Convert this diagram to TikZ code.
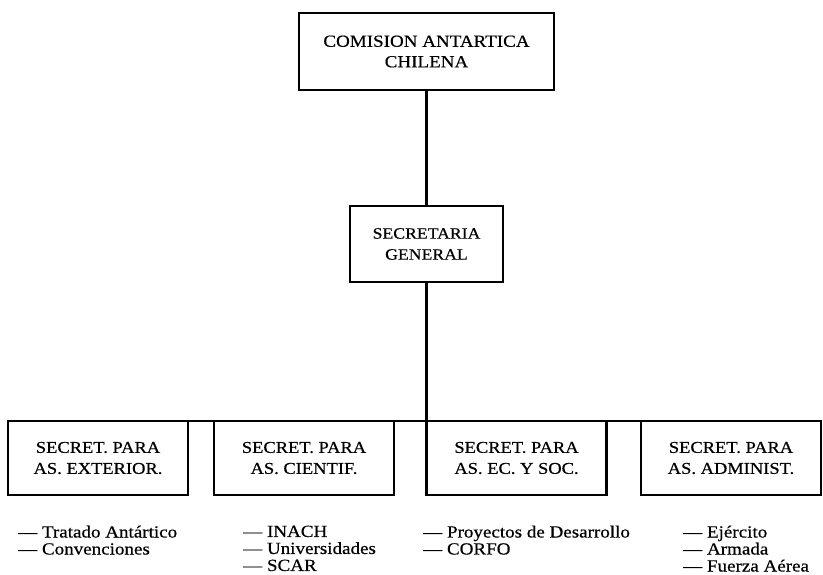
\documentclass[tikz,border=0pt]{standalone}
\usepackage{fontspec}
\setmainfont{Liberation Serif}[FakeStretch=1.12, FakeBold=0.5]
\usetikzlibrary{positioning}

\begin{document}
\begin{tikzpicture}[x=1pt, y=1pt,
    unit/.style={draw, line width=2.2pt, align=center, inner sep=0pt,
                 outer sep=0pt, font=\fontsize{16.5}{21}\selectfont},
    subunit/.style={unit, minimum width=180pt, minimum height=74pt},
    items/.style={align=left, anchor=north west, inner sep=0pt,
                  font=\fontsize{17}{17}\selectfont},
    link/.style={line width=2.2pt}
]
    \useasboundingbox (0,0) rectangle (823,-575);
    % top levels
    \node[unit, minimum width=255pt, minimum height=77pt,
          font=\fontsize{17}{20.5}\selectfont] (comision) at (426.5,-51.5)
        {COMISION ANTARTICA\\CHILENA};
    \node[unit, minimum width=153pt, minimum height=76pt,
          font=\fontsize{15.8}{21}\selectfont] (secgen) at (426.5,-244)
        {SECRETARIA\\GENERAL};
    % secretarias
    \node[subunit] (exterior) at (98,-458) {SECRET. PARA\\AS. EXTERIOR.};
    \node[subunit] (cientif) at (304,-458) {SECRET. PARA\\AS. CIENTIF.};
    \node[subunit] (ecsoc) at (516.5,-458) {SECRET. PARA\\AS. EC. Y SOC.};
    \node[subunit] (administ) at (731,-458) {SECRET. PARA\\AS. ADMINIST.};

    \draw[link] (comision.south) -- (secgen.north);
    \draw[link] (secgen.south) -- (ecsoc.north west);
    \draw[link] (exterior.north east) -- (cientif.north west);
    \draw[link] (cientif.north east) -- (ecsoc.north west);
    \draw[link] (ecsoc.north east) -- (administ.north west);

    % dependencias
    \node[items] (ext-list) at (18,-525.5)
        {--- Tratado Antártico\\--- Convenciones};
    \node[items] (cie-list) at (243,-525.5)
        {--- INACH\\--- Universidades\\--- SCAR};
    \node[items] (ecs-list) at (423,-525.5)
        {--- Proyectos de Desarrollo\\--- CORFO};
    \node[items] (adm-list) at (683,-525.5)
        {--- Ejército\\--- Armada\\--- Fuerza Aérea};
\end{tikzpicture}
\end{document}
